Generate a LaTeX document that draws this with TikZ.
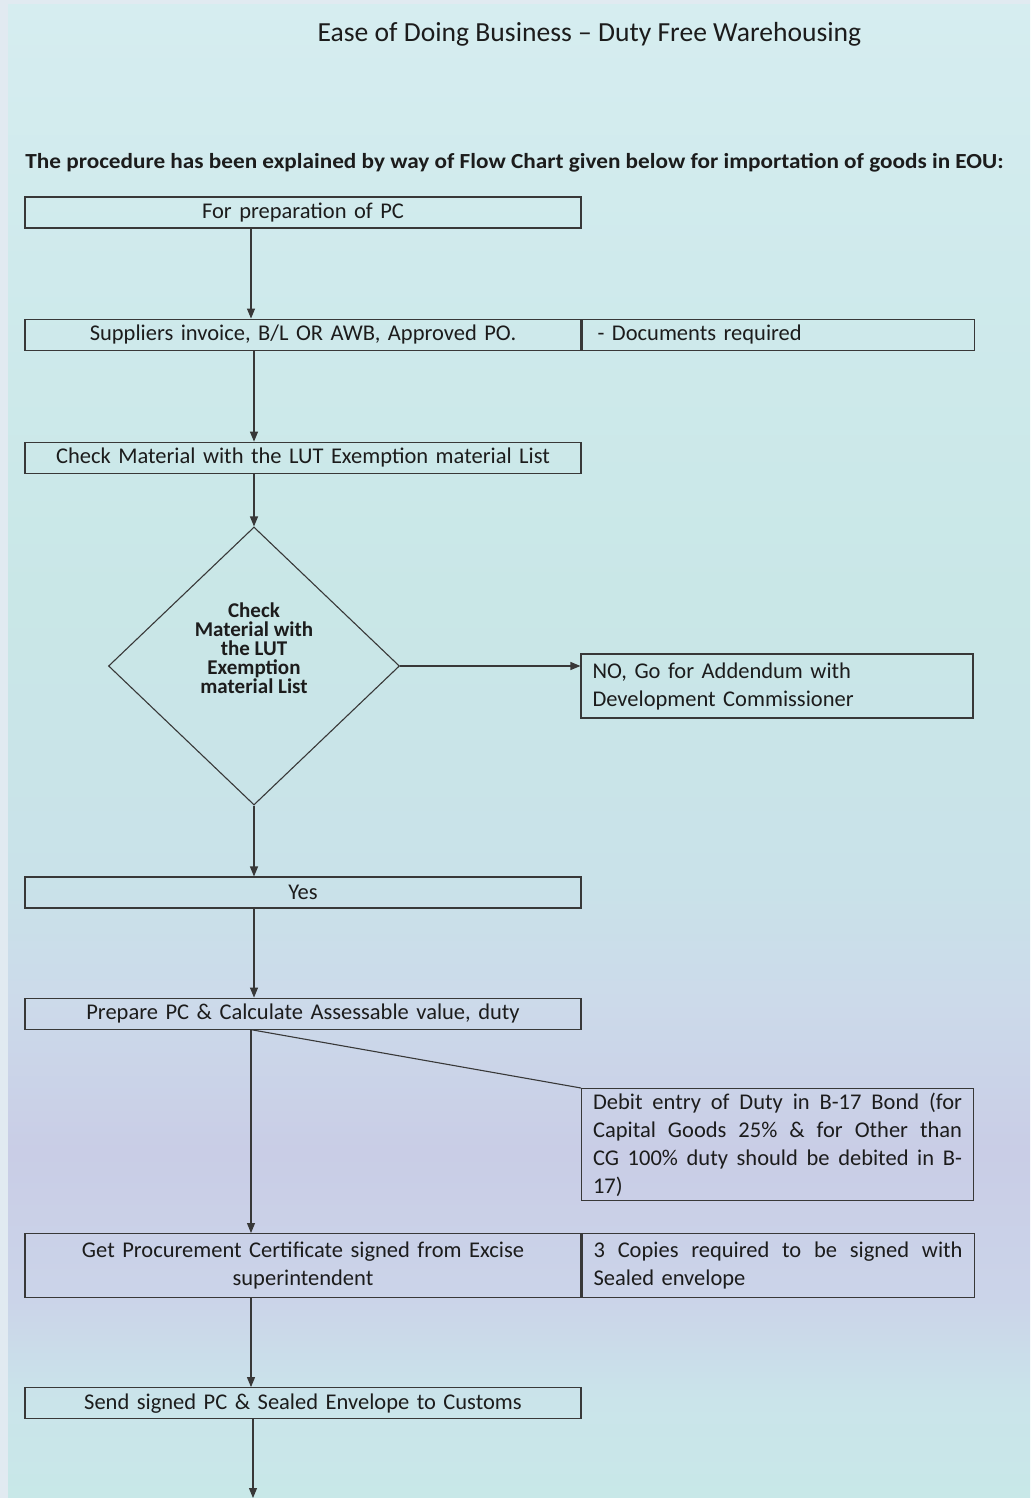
\documentclass[tikz,border=0pt]{standalone}
\usepackage{fontspec}
\setmainfont{Carlito}
\usetikzlibrary{positioning}
\usetikzlibrary{shapes.geometric}
\usetikzlibrary{arrows.meta}

\definecolor{inkline}{HTML}{383838}
\definecolor{inktext}{HTML}{1C1C1C}
\definecolor{washedge}{HTML}{E1EAF1}
\definecolor{washtop}{HTML}{D6EDF0}
\definecolor{washhigh}{HTML}{CFEAEC}
\definecolor{washmid}{HTML}{C9E7E7}
\definecolor{washblue}{HTML}{C9E2E9}
\definecolor{washmix}{HTML}{CCDAEA}
\definecolor{washviolet}{HTML}{C9CDE6}
\definecolor{washlilac}{HTML}{CBD4E9}
\definecolor{washlow}{HTML}{CAE4EA}
\definecolor{washbot}{HTML}{C8E8E8}
\pgfdeclareverticalshading{washbg}{100bp}{color(0bp)=(washbot);
  color(25bp)=(washbot); color(28.3bp)=(washlow);
  color(31.6bp)=(washlilac); color(36.6bp)=(washviolet);
  color(41.6bp)=(washmix); color(45.6bp)=(washblue);
  color(55bp)=(washmid); color(66bp)=(washhigh);
  color(75bp)=(washtop); color(100bp)=(washtop)}

\newcommand{\boxfont}{\fontsize{22.5}{28}\selectfont}
\newcommand{\diamfont}{\bfseries\fontsize{21}{19}\selectfont}
\newcommand{\fullline}[1]{\leavevmode\hbox to 369pt{\spaceskip=0.2em plus 1fil\relax #1}}

\begin{document}
\begin{tikzpicture}[x=1pt,y=-1pt,
	stepbox/.style={draw=inkline, line width=1.1pt, rectangle, minimum height=31pt, inner sep=0pt, font=\boxfont, text=inktext},
	leftbox/.style={stepbox, minimum width=556pt, text width=540pt, align=center},
	notebox/.style={stepbox, minimum width=392pt, text width=369pt, align=left},
	flow/.style={draw=inkline, line width=1.1pt, -{Triangle[length=10pt,width=8pt]}}]
	\useasboundingbox (0,0) rectangle (1030,1498);
	\shade[shading=washbg] (0,0) rectangle (1030,1498);
	\fill[washedge] (0,0) rectangle (8,1498); \fill[washedge] (0,0) rectangle (1030,4);
	\coordinate (spine) at (251,0);
	% headings
	\node [text=inktext, font=\fontsize{27.6}{32}\selectfont] at (589.5,34) (title) {Ease of Doing Business -- Duty Free Warehousing};
	\node [text=inktext, font=\bfseries\fontsize{21.5}{24}\selectfont] at (514.5,163) (intro) {\scalebox{1.08}[1]{The procedure has been explained by way of Flow Chart given below for importation of goods in EOU:}};
	% flow
	\node [leftbox] at (303,212.5) (prep) {For preparation of PC};
	\node [leftbox, below=90pt of prep] (supp) {Suppliers invoice, B/L OR AWB, Approved PO.};
	\node [notebox, right=0pt of supp] (docs) {\hspace{4pt}- Documents required};
	\node [leftbox, below=91pt of supp] (check) {Check Material with the LUT Exemption material List};
	\node [draw=inkline, line width=1.1pt, diamond, minimum width=291pt, minimum height=278pt, inner sep=0pt, align=center, font=\diamfont, text=inktext] at (254,666) (dec) {Check\\Material with\\the LUT\\Exemption\\material List\rule[-36pt]{0pt}{0pt}};
	\node [notebox, minimum height=64pt] at (777,686) (no) {NO, Go for Addendum with\\Development Commissioner};
	\node [leftbox] at (303,892.5) (yes) {Yes};
	\node [leftbox, below=89pt of yes] (prepare) {Prepare PC \& Calculate Assessable value, duty};
	\node [notebox, minimum height=112pt, anchor=north west] at (581,1088) (debit) {\fullline{Debit entry of Duty in B-17 Bond (for}\\\fullline{Capital Goods 25\% \& for Other than}\\\fullline{CG 100\% duty should be debited in B-}\\17)};
	\node [leftbox, minimum height=64pt, anchor=north] at (303,1233) (procure) {Get Procurement Certificate signed from Excise\\superintendent};
	\node [notebox, minimum height=64pt, right=0pt of procure] (copies) {\fullline{3 Copies required to be signed with}\\Sealed envelope};
	\node [leftbox, below=89pt of procure] (send) {Send signed PC \& Sealed Envelope to Customs};
	\coordinate (tail) at (253,1498);
	% connectors
	\draw [flow] (prep.south -| spine) -- (supp.north -| spine);
	\draw [flow] (supp.south -| dec.north) -- (check.north -| dec.north);
	\draw [flow] (check.south -| dec.north) -- (dec.north);
	\draw [flow] (dec.east) -- (dec.east -| no.west);
	\draw [flow] (dec.south) -- (yes.north -| dec.south);
	\draw [flow] (yes.south -| dec.south) -- (prepare.north -| dec.south);
	\draw [draw=inkline, line width=1.1pt] (prepare.south -| spine) -- (debit.north west);
	\draw [flow] (prepare.south -| spine) -- (procure.north -| spine);
	\draw [flow] (procure.south -| spine) -- (send.north -| spine);
	\draw [flow] (send.south -| tail) -- (tail);
\end{tikzpicture}
\end{document}
